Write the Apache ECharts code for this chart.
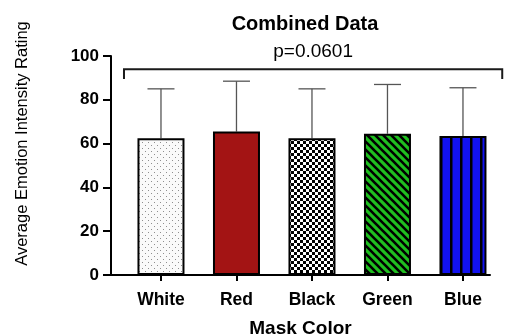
<!DOCTYPE html>
<html>
<head>
<meta charset="utf-8">
<script src="https://cdn.jsdelivr.net/npm/echarts@6/dist/echarts.min.js"></script>
<style>
  html, body { margin: 0; padding: 0; background: #fff; }
  #chart { width: 506px; height: 335px; }
</style>
</head>
<body>
<div id="chart"></div>
<script>
// Mask colour groups and their mean ratings with the upper SD whisker
const categories = ['White', 'Red', 'Black', 'Green', 'Blue'];
const means = [62.5, 65.5, 62.5, 64.5, 63.5];
const sds = [22.5, 23.0, 22.5, 22.5, 22.0];
const yTicks = [0, 20, 40, 60, 80, 100];
const pLabel = 'p=0.0601';
// Comparison bracket spanning all groups (x in category units, y in rating units)
const bracketX = [0.51, 5.52];
const bracketY = [94, 89.5];

const FONT = '"Liberation Sans", Arial, sans-serif';

function makeTile(w, h, draw) {
  const c = document.createElement('canvas');
  c.width = w; c.height = h;
  const ctx = c.getContext('2d');
  draw(ctx, w, h);
  return { image: c, repeat: 'repeat' };
}

// Fill patterns for each bar
const fills = [
  // white with fine grey stipple
  makeTile(6, 6, (ctx, w, h) => {
    ctx.fillStyle = '#fafafa'; ctx.fillRect(0, 0, w, h);
    ctx.fillStyle = '#8f8f8f';
    ctx.fillRect(1, 1, 1, 1);
    ctx.fillRect(4, 4, 1, 1);
  }),
  // solid dark red
  '#a31414',
  // black and white checkerboard
  makeTile(6, 6, (ctx, w, h) => {
    ctx.fillStyle = '#ffffff'; ctx.fillRect(0, 0, w, h);
    ctx.fillStyle = '#000000';
    ctx.fillRect(0, 0, 3, 3);
    ctx.fillRect(3, 3, 3, 3);
  }),
  // green with black diagonal stripes
  makeTile(8, 8, (ctx, w, h) => {
    ctx.fillStyle = '#1fbf1f'; ctx.fillRect(0, 0, w, h);
    ctx.strokeStyle = '#000000'; ctx.lineWidth = 2.6;
    ctx.beginPath();
    ctx.moveTo(-2, -2); ctx.lineTo(w + 2, h + 2);
    ctx.moveTo(-w - 2, -2); ctx.lineTo(2, h + 2);
    ctx.moveTo(w - 2, -2); ctx.lineTo(2 * w + 2, h + 2);
    ctx.stroke();
  }),
  // blue with black vertical stripes
  makeTile(10, 10, (ctx, w, h) => {
    ctx.fillStyle = '#1212f0'; ctx.fillRect(0, 0, w, h);
    ctx.fillStyle = '#000000';
    ctx.fillRect(0, 0, 2.5, h);
  })
];

const positions = categories.map((_, i) => i + 1);
const barData = means.map((m, i) => ({
  value: [positions[i], m],
  itemStyle: { color: fills[i] }
}));
const errData = means.map((m, i) => [positions[i], m, m + sds[i]]);

const chart = echarts.init(document.getElementById('chart'), null, { renderer: 'canvas' });

chart.setOption({
  animation: false,
  backgroundColor: '#ffffff',
  textStyle: { fontFamily: FONT },
  title: {
    text: 'Combined Data',
    left: 300, top: 9, textAlign: 'center',
    textStyle: { fontFamily: FONT, fontSize: 20, fontWeight: 'bold', color: '#000' }
  },
  grid: { left: 111, right: 16, top: 56, bottom: 60, containLabel: false, outerBoundsMode: 'none' },
  xAxis: {
    type: 'value',
    min: 0.338, max: 5.358,
    splitLine: { show: false },
    axisLine: { show: true, lineStyle: { color: '#000', width: 2 } },
    axisTick: { show: true, customValues: positions, length: 6, lineStyle: { color: '#000', width: 2 } },
    axisLabel: {
      customValues: positions,
      formatter: v => categories[Math.round(v) - 1] || '',
      fontFamily: FONT, fontSize: 17.5, fontWeight: 'bold', color: '#000', margin: 16
    },
    name: 'Mask Color',
    nameLocation: 'middle',
    nameGap: 44,
    nameTextStyle: { fontFamily: FONT, fontSize: 19, fontWeight: 'bold', color: '#000' }
  },
  yAxis: {
    type: 'value',
    min: 0, max: 100, interval: 20,
    splitLine: { show: false },
    axisLine: { show: true, lineStyle: { color: '#000', width: 2 } },
    axisTick: { show: true, length: 8, lineStyle: { color: '#000', width: 2 } },
    axisLabel: {
      formatter: v => (yTicks.indexOf(v) >= 0 ? String(v) : ''),
      fontFamily: FONT, fontSize: 17, fontWeight: 'bold', color: '#000', margin: 12
    },
    name: 'Average Emotion Intensity Rating',
    nameLocation: 'middle',
    nameGap: 80,
    nameTextStyle: { fontFamily: FONT, fontSize: 16.5, color: '#000', padding: [0, 0, 0, 44] }
  },
  series: [
    {
      type: 'bar',
      data: barData,
      barWidth: 47,
      itemStyle: { borderColor: '#000', borderWidth: 2 },
      z: 2
    },
    {
      // upper SD whiskers
      type: 'custom',
      data: errData,
      encode: { x: 0, y: [1, 2] },
      z: 1,
      renderItem: (params, api) => {
        const x = api.value(0);
        const p0 = api.coord([x, api.value(1)]);
        const p1 = api.coord([x, api.value(2)]);
        const half = 13.5;
        return {
          type: 'group',
          children: [
            { type: 'line', shape: { x1: p0[0], y1: p0[1], x2: p1[0], y2: p1[1] },
              style: { stroke: '#555', lineWidth: 1.3 } },
            { type: 'line', shape: { x1: p1[0] - half, y1: p1[1], x2: p1[0] + half, y2: p1[1] },
              style: { stroke: '#555', lineWidth: 1.3 } }
          ]
        };
      }
    },
    {
      // comparison bracket with p-value
      type: 'custom',
      data: [[bracketX[0], bracketY[0]]],
      clip: false,
      z: 3,
      renderItem: (params, api) => {
        const a = api.coord([bracketX[0], bracketY[0]]);
        const b = api.coord([bracketX[1], bracketY[0]]);
        const aEnd = api.coord([bracketX[0], bracketY[1]]);
        const mid = (a[0] + b[0]) / 2;
        return {
          type: 'group',
          children: [
            { type: 'polyline',
              shape: { points: [[a[0], aEnd[1]], a, b, [b[0], aEnd[1]]] },
              style: { stroke: '#1a1a1a', lineWidth: 2, fill: null } },
            { type: 'text',
              style: { text: pLabel, x: mid, y: a[1] - 17, align: 'center', verticalAlign: 'middle',
                       font: '19px ' + FONT, fill: '#000' } }
          ]
        };
      }
    }
  ]
});
</script>
</body>
</html>
